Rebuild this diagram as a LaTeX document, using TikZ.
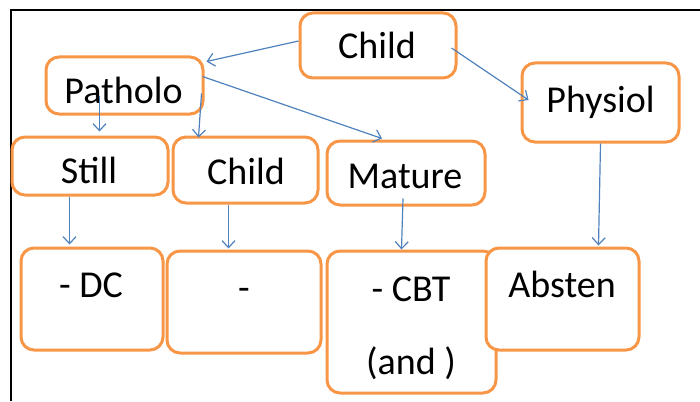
\documentclass[tikz,border=0pt]{standalone}
\usepackage{fontspec}
\setmainfont{Carlito}
\usetikzlibrary{calc,arrows.meta}
\definecolor{boxorange}{HTML}{F79646}
\definecolor{arrblue}{HTML}{4F81BD}
\begin{document}
\begin{tikzpicture}[x=1pt,y=-1pt,
  box/.style={draw=boxorange, line width=3pt, rounded corners=13pt, fill=white, inner sep=0pt},
  lbl/.style={anchor=base, inner sep=0pt, font=\fontsize{38}{44}\selectfont},
  arr/.style={draw=arrblue, line width=1.2pt, -{Straight Barb[length=7pt,width=13pt]}}]
\useasboundingbox (0,0) rectangle (700,401);
\draw[black, line width=1.2pt] (11,401) -- (11,10) -- (700,10);
% boxes
\node[box, minimum width=156pt, minimum height=65pt] (childA) at (378,45.5) {};
\node[box, minimum width=157pt, minimum height=57pt] (patholo) at (124.5,85.5) {};
\node[box, minimum width=157pt, minimum height=79pt] (physiol) at (600.5,102.5) {};
\node[box, minimum width=156pt, minimum height=58pt] (still) at (90,166) {};
\node[box, minimum width=145pt, minimum height=66pt] (childB) at (245.5,170) {};
\node[box, minimum width=158pt, minimum height=64pt] (mature) at (406,173) {};
\node[box, minimum width=142pt, minimum height=102pt] (dc) at (92,299) {};
\node[box, minimum width=154pt, minimum height=102pt] (dash) at (244,302) {};
\node[box, minimum width=169pt, minimum height=142pt] (cbt) at (411.5,322) {};
\node[box, minimum width=153pt, minimum height=102pt] (absten) at (562.5,299) {};
% labels
\node[lbl] (tchildA) at (377,59) {Child};
\node[lbl] (tpatholo) at (123.5,103) {Patholo};
\node[lbl] (tphysiol) at (600.5,113) {Physiol};
\node[lbl] (tstill) at (89,183) {Still};
\node[lbl] (tchildB) at (246,184) {Child};
\node[lbl] (tmature) at (405,188) {Mature};
\node[lbl] (tdc) at (91,297) {- DC};
\node[lbl] (tdash) at (244,300) {-};
\node[lbl] (tcbt) at (411,301) {- CBT};
\node[lbl] (tand) at (411,374) {(and )};
\node[lbl] (tabsten) at (562,297) {Absten};
% arrows
\draw[arr] ($(childA.west)+(0,-4.5)$) -- ($(patholo.north east)+(2,6)$);
\draw[arr] ($(childA.east)+(-6,2.5)$) -- ($(physiol.west)+(8,-2.5)$);
\draw[arr] ($(patholo.north east)+(-2,21)$) -- ($(mature.north)+(-24,-1)$);
\draw[arr] ($(patholo.south west)+(55,-19)$) -- ($(still.north west)+(89,-4)$);
\draw[arr] ($(patholo.south east)+(-3,-22)$) -- ($(childB.north west)+(27,2)$);
\draw[arr] ($(still.south west)+(59,0)$) -- ($(dc.north west)+(50,-2)$);
\draw[arr] ($(childB.south west)+(57,0)$) -- ($(dash.north west)+(63,-1)$);
\draw[arr] ($(mature.south)+(-3,-8)$) -- ($(cbt.north west)+(76,0)$);
\draw[arr] (physiol.south) -- ($(absten.north west)+(114,-1)$);
\end{tikzpicture}
\end{document}
